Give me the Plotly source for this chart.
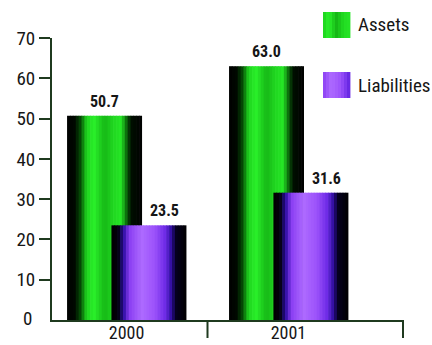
import plotly.graph_objects as go

# ---- data -------------------------------------------------------------
years = ["2000", "2001"]
assets = [50.7, 63.0]
liabilities = [23.5, 31.6]
y_ticks = [0, 10, 20, 30, 40, 50, 60, 70]
series_names = ["Assets", "Liabilities"]

# ---- styling ----------------------------------------------------------
W, H = 432, 345
M_L, M_R, M_T, M_B = 52, 29, 38, 25
AXIS_COLOR = "#1f3a1f"
FONT = "Liberation Sans Narrow, Arial Narrow, Roboto Condensed, Liberation Sans, sans-serif"
TEXT_COLOR = "#161616"

X_RANGE = [-0.46, 1.707]
BAR_W = 0.463
OFFSETS = [-0.367, -0.093]  # left edge of each series bar relative to the year position
N_STRIPS = 26

# horizontal colour profiles across a bar (fraction of width -> colour)
GREEN_PROFILE = [
    (0.00, "#000000"), (0.10, "#000800"), (0.18, "#054d05"), (0.26, "#1ed41e"),
    (0.36, "#2af02a"), (0.50, "#16b816"), (0.62, "#20d820"), (0.72, "#26e626"),
    (0.79, "#0c6e0c"), (0.85, "#001000"), (1.00, "#000000"),
]
PURPLE_PROFILE = [
    (0.00, "#000000"), (0.09, "#04000e"), (0.16, "#2a0ca0"), (0.24, "#8a3ef2"),
    (0.40, "#ad6aff"), (0.58, "#9c52fa"), (0.72, "#6c2ae6"), (0.80, "#2c0c9a"),
    (0.86, "#060020"), (1.00, "#000000"),
]
PROFILES = [GREEN_PROFILE, PURPLE_PROFILE]


def hex_to_rgb(h):
    h = h.lstrip("#")
    return tuple(int(h[i:i + 2], 16) for i in (0, 2, 4))


def sample(profile, t):
    for (t0, c0), (t1, c1) in zip(profile[:-1], profile[1:]):
        if t0 <= t <= t1:
            f = 0 if t1 == t0 else (t - t0) / (t1 - t0)
            a, b = hex_to_rgb(c0), hex_to_rgb(c1)
            r, g, bl = (round(a[k] + (b[k] - a[k]) * f) for k in range(3))
            return f"rgb({r},{g},{bl})"
    return profile[-1][1]


def px_x(px):
    return (px - M_L) / (W - M_L - M_R)


def px_y(py):
    return (H - M_B - py) / (H - M_T - M_B)


x_pos = list(range(len(years)))
fig = go.Figure()

# each bar is painted as a row of narrow vertical strips to give a shaded fill
for values, offset, profile, name in zip([assets, liabilities], OFFSETS, PROFILES, series_names):
    step = BAR_W / N_STRIPS
    for i in range(N_STRIPS):
        t = (i + 0.5) / N_STRIPS
        fig.add_trace(go.Bar(
            x=x_pos, y=values, name=name, showlegend=False,
            offset=offset + i * step,
            width=step + (0.004 if i < N_STRIPS - 1 else 0),
            marker=dict(color=sample(profile, t), line=dict(width=0)),
            hoverinfo="skip",
        ))

# value labels: assets centred on the bar, liabilities on its uncovered part
for xi, a, l in zip(x_pos, assets, liabilities):
    a_center = xi + OFFSETS[0] + BAR_W / 2
    l_center = xi + (OFFSETS[0] + BAR_W + OFFSETS[1] + BAR_W) / 2
    for xc, v in [(a_center, a), (l_center, l)]:
        fig.add_annotation(
            x=xc, y=v, text=f"<b>{v:.1f}</b>", showarrow=False,
            yanchor="bottom", yshift=3, xref="x", yref="y",
            font=dict(family=FONT, size=16, color=TEXT_COLOR),
        )

# zero label (no tick drawn at the axis corner)
fig.add_annotation(
    x=0, y=y_ticks[0], xref="paper", yref="y", text=str(y_ticks[0]),
    showarrow=False, xanchor="right", xshift=-18, yshift=2,
    font=dict(family=FONT, size=19, color=TEXT_COLOR),
)

# category divider ticks under the x axis
shapes = []
for xv, xr in [(0.5, "x"), (1.0, "paper")]:
    shapes.append(dict(type="line", xref=xr, yref="paper", x0=xv, x1=xv,
                       y0=0, y1=-18 / (H - M_T - M_B),
                       line=dict(color=AXIS_COLOR, width=2)))

# legend swatches
SW_X0, SW_X1 = 323, 350
swatch_rows = [(12, 38), (72, 98)]
for (y0, y1), profile in zip(swatch_rows, PROFILES):
    n = 9
    for i in range(n):
        t = 0.25 + 0.5 * (i + 0.5) / n
        xa = SW_X0 + (SW_X1 - SW_X0) * i / n
        xb = SW_X0 + (SW_X1 - SW_X0) * (i + 1) / n + 0.4
        shapes.append(dict(type="rect", xref="paper", yref="paper",
                           x0=px_x(xa), x1=px_x(xb), y0=px_y(y1), y1=px_y(y0),
                           fillcolor=sample(profile, t), line=dict(width=0), layer="above"))
for name, (y0, y1) in zip(series_names, swatch_rows):
    fig.add_annotation(
        x=px_x(356), y=px_y((y0 + y1) / 2), xref="paper", yref="paper",
        text=name, showarrow=False, xanchor="left", yanchor="middle",
        font=dict(family=FONT, size=19, color=TEXT_COLOR),
    )

fig.update_layout(
    width=W, height=H,
    margin=dict(l=M_L, r=M_R, t=M_T, b=M_B, pad=0, autoexpand=False),
    barmode="overlay",
    plot_bgcolor="white", paper_bgcolor="white",
    showlegend=False,
    shapes=shapes,
    xaxis=dict(
        range=X_RANGE, tickvals=x_pos, ticktext=years, ticks="",
        showline=True, linecolor=AXIS_COLOR, linewidth=2, automargin=False,
        showgrid=False, zeroline=False, fixedrange=True, ticklabelstandoff=-5,
        tickfont=dict(family=FONT, size=18, color=TEXT_COLOR),
    ),
    yaxis=dict(
        range=[y_ticks[0], y_ticks[-1]], tickvals=y_ticks[1:],
        ticks="outside", ticklen=11, tickwidth=2, tickcolor=AXIS_COLOR,
        showline=True, linecolor=AXIS_COLOR, linewidth=2, automargin=False,
        showgrid=False, zeroline=False, fixedrange=True,
        tickfont=dict(family=FONT, size=19, color=TEXT_COLOR),
    ),
)

fig.write_html("out.html")
